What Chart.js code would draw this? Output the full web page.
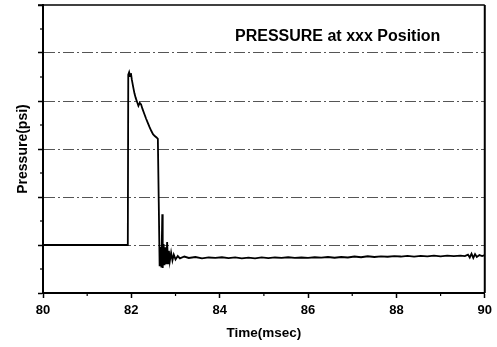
<!DOCTYPE html>
<html>
<head>
<meta charset="utf-8">
<title>Pressure</title>
<script src="https://cdn.jsdelivr.net/npm/chart.js@4.4.1/dist/chart.umd.min.js"></script>
<style>
  body { margin: 0; background: #fff; }
  canvas { display: block; }
</style>
</head>
<body>
<canvas id="chart" width="497" height="347"></canvas>
<script>
// pressure trace (y in grid divisions, no units shown)
var timeMs = [
	80.00, 81.92, 81.93, 81.95, 81.97, 81.99, 82.01, 82.04, 82.07, 82.10,
	82.13, 82.16, 82.19, 82.22, 82.25, 82.29, 82.33, 82.37, 82.41, 82.45,
	82.49, 82.53, 82.57, 82.60, 82.62, 82.64, 82.66, 82.68, 82.70, 82.71,
	82.73, 82.75, 82.77, 82.79, 82.81, 82.83, 82.85, 82.87, 82.90, 82.93,
	82.96, 83.00, 83.05, 83.10, 83.20, 83.30, 83.45, 83.60, 83.75, 83.90,
	84.05, 84.20, 84.35, 84.50, 84.65, 84.80, 84.95, 85.10, 85.25, 85.40,
	85.55, 85.70, 85.85, 86.00, 86.15, 86.30, 86.45, 86.60, 86.75, 86.90,
	87.05, 87.20, 87.35, 87.50, 87.65, 87.80, 87.95, 88.10, 88.25, 88.40,
	88.55, 88.70, 88.85, 89.00, 89.15, 89.30, 89.45, 89.55, 89.62, 89.66,
	89.70, 89.74, 89.78, 89.82, 89.88, 89.94, 90.00
];
var pressure = [
	1.00, 1.00, 4.55, 4.60, 4.52, 4.58, 4.45, 4.30, 4.16, 4.06,
	3.98, 3.90, 3.96, 3.93, 3.84, 3.74, 3.64, 3.55, 3.46, 3.38,
	3.31, 3.27, 3.24, 3.21, 1.90, 0.56, 0.96, 0.53, 1.64, 0.52,
	1.02, 0.58, 0.95, 0.60, 1.06, 0.62, 0.88, 0.66, 0.84, 0.68,
	0.80, 0.70, 0.77, 0.72, 0.76, 0.73, 0.75, 0.72, 0.74, 0.73,
	0.745, 0.725, 0.74, 0.72, 0.735, 0.72, 0.74, 0.725, 0.74, 0.73,
	0.745, 0.73, 0.74, 0.73, 0.745, 0.735, 0.75, 0.735, 0.75, 0.74,
	0.76, 0.745, 0.765, 0.75, 0.765, 0.755, 0.77, 0.76, 0.775, 0.76,
	0.775, 0.765, 0.78, 0.765, 0.78, 0.77, 0.78, 0.77, 0.80, 0.74,
	0.82, 0.73, 0.81, 0.75, 0.79, 0.77, 0.79
];
var xMinorTicks = [81, 83, 85, 87, 89];
var yMinorTicks = [0.5, 1.5, 2.5, 3.5, 4.5, 5.5];
var yGridLines = [1, 2, 3, 4, 5];
var chartTitle = 'PRESSURE at xxx Position';

var fontFamily = '"Liberation Sans", Arial, sans-serif';

// top + right frame lines, short minor ticks and the title inside the plot
var extras = {
	id: 'extras',
	afterDraw: function (chart) {
		var ctx = chart.ctx;
		var a = chart.chartArea;
		var xs = chart.scales.x, ys = chart.scales.y;
		ctx.save();
		ctx.strokeStyle = '#000';
		ctx.lineWidth = 1.5;
		ctx.beginPath();
		ctx.moveTo(38, a.top);
		ctx.lineTo(a.right, a.top);
		ctx.stroke();
		ctx.lineWidth = 2;
		ctx.beginPath();
		ctx.moveTo(a.right, a.top);
		ctx.lineTo(a.right, a.bottom);
		ctx.stroke();
		ctx.lineWidth = 1.2;
		xMinorTicks.forEach(function (v) {
			var px = xs.getPixelForValue(v);
			ctx.beginPath();
			ctx.moveTo(px, a.bottom);
			ctx.lineTo(px, a.bottom + 3);
			ctx.stroke();
		});
		yMinorTicks.forEach(function (v) {
			var py = ys.getPixelForValue(v);
			ctx.beginPath();
			ctx.moveTo(a.left - 3, py);
			ctx.lineTo(a.left, py);
			ctx.stroke();
		});
		ctx.fillStyle = '#000';
		ctx.font = 'bold 16px ' + fontFamily;
		ctx.textBaseline = 'middle';
		ctx.textAlign = 'left';
		ctx.fillText(chartTitle, 235, 37);
		ctx.restore();
	}
};

new Chart(document.getElementById('chart'), {
	type: 'line',
	data: {
		datasets: [{
			data: timeMs.map(function (t, i) { return { x: t, y: pressure[i] }; }),
			borderColor: '#000',
			borderWidth: 1.8,
			pointRadius: 0,
			tension: 0
		}]
	},
	options: {
		responsive: false,
		animation: false,
		layout: { padding: { top: 5, right: 9, left: 0, bottom: 0 } },
		plugins: { legend: { display: false }, tooltip: { enabled: false } },
		scales: {
			x: {
				type: 'linear',
				min: 80,
				max: 90,
				afterFit: function (s) { s.height = 54; },
				ticks: {
					stepSize: 2,
					color: '#000',
					padding: 5,
					font: { family: fontFamily, size: 13, weight: 'bold' }
				},
				grid: { drawOnChartArea: false, tickLength: 5, tickColor: '#000', tickWidth: 1.5 },
				border: { color: '#000', width: 2 },
				title: {
					display: true,
					text: 'Time(msec)',
					color: '#000',
					padding: { top: 0, bottom: 6 },
					font: { family: fontFamily, size: 13.5, weight: 'bold' }
				}
			},
			y: {
				min: 0,
				max: 6,
				afterFit: function (s) { s.width = 43; },
				ticks: { stepSize: 1, display: false },
				grid: {
					color: function (c) {
						return c.tick && yGridLines.indexOf(c.tick.value) >= 0 ? '#555' : 'rgba(0,0,0,0)';
					},
					lineWidth: 1,
					tickLength: 5,
					tickColor: '#000',
					tickWidth: 1.5
				},
				border: { color: '#000', width: 2, dash: [11, 3, 2, 3] },
				title: {
					display: true,
					text: 'Pressure(psi)',
					color: '#000',
					padding: { top: 14.5, bottom: 0 },
					font: { family: fontFamily, size: 14, weight: 'bold' }
				}
			}
		}
	},
	plugins: [extras]
});
</script>
</body>
</html>
